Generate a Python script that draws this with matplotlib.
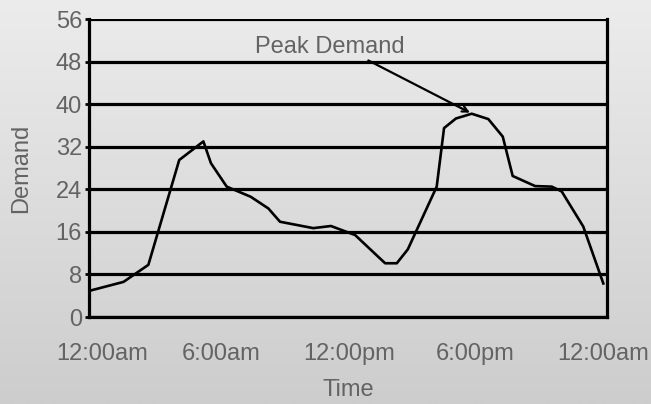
import numpy as np
import matplotlib.pyplot as plt
from matplotlib.colors import LinearSegmentedColormap

# demand curve (hour of day, demand)
hours = [0.0, 1.6, 2.75, 4.18, 5.3, 5.65, 6.38, 7.49, 8.31, 8.85, 10.39, 11.21,
         12.33, 13.72, 14.26, 14.77, 16.11, 16.45, 17.0, 17.73, 18.5, 19.17,
         19.63, 20.67, 21.44, 21.9, 22.9, 23.83]
demand = [4.9, 6.6, 9.8, 29.5, 33.0, 28.9, 24.5, 22.6, 20.4, 17.9, 16.7, 17.1,
          15.4, 10.1, 10.1, 12.7, 24.5, 35.5, 37.3, 38.2, 37.2, 33.9,
          26.5, 24.6, 24.5, 23.6, 17.0, 6.3]
# label centres sit slightly inside the ends of the axis in the original
x_label_pos = [0.6, 6.1, 12.05, 17.9, 23.8]
x_labels = ["12:00am", "6:00am", "12:00pm", "6:00pm", "12:00am"]
y_ticks = [0, 8, 16, 24, 32, 40, 48, 56]

plt.rcParams['font.family'] = ['Liberation Sans', 'DejaVu Sans']
grey = '#636363'
fs = 17

fig = plt.figure(figsize=(6.51, 4.04), dpi=100)

# background gradient
bg = fig.add_axes([0, 0, 1, 1])
grad = np.linspace(0, 1, 256).reshape(-1, 1)
bg.imshow(grad, aspect='auto', extent=[0, 1, 0, 1], origin='upper',
          cmap=LinearSegmentedColormap.from_list('bg', ['#ececec', '#cdcdcd']))
bg.axis('off')

ax = fig.add_axes([89 / 651, 1 - 317 / 404, 518 / 651, 298 / 404])
ax.patch.set_alpha(0)
ax.plot(hours, demand, color='black', lw=1.9, zorder=3)

for v in y_ticks:
    ax.axhline(v, color='black', lw=2.3, zorder=2)

ax.set_xlim(0, 24)
ax.set_ylim(0, 56)
ax.set_yticks(y_ticks)
ax.set_xticks(x_label_pos)
ax.set_xticklabels(x_labels)
ax.tick_params(axis='y', length=3, width=2, color='black', labelsize=fs,
               labelcolor=grey, pad=2)
ax.tick_params(axis='x', length=0, labelsize=fs, labelcolor=grey, pad=19)
for s in ['left', 'bottom', 'right']:
    ax.spines[s].set_linewidth(2.3)
ax.spines['top'].set_visible(False)

ax.set_xlabel("Time", fontsize=fs, color=grey, labelpad=10)
ax.set_ylabel("Demand", fontsize=fs, color=grey, labelpad=17)

ax.annotate("Peak Demand", xy=(17.65, 38.4), xytext=(7.7, 50.8),
            fontsize=fs, color=grey, ha='left', va='center',
            arrowprops=dict(arrowstyle='->', color='black', lw=1.6,
                            mutation_scale=10,
                            shrinkA=0, shrinkB=0, relpos=(0.72, 0)))

fig.savefig("out.png", dpi=100)
